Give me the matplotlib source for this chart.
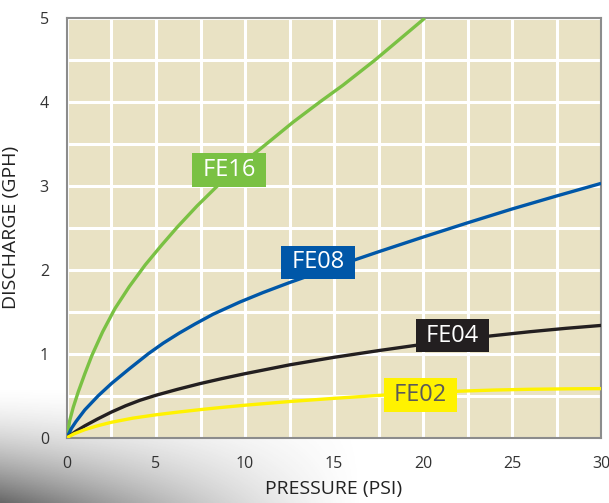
import numpy as np
import matplotlib.pyplot as plt

# values (pressure psi -> discharge gph)
fe16_x = [0, 0.15, 0.35, 0.64, 1.0, 1.4, 2.0, 2.7, 3.5, 4.4, 5.3, 6.2, 7.3, 8.45,
          9.8, 11.2, 12.7, 14.2, 15.5, 16.4, 17.3, 18.7, 20.1]
fe16_y = [0, 0.2, 0.36, 0.55, 0.76, 0.98, 1.26, 1.54, 1.8, 2.06, 2.29, 2.51, 2.76, 3.0,
          3.26, 3.5, 3.76, 4.0, 4.2, 4.35, 4.5, 4.75, 5.0]

fe08_x = [0, 0.25, 0.5, 1.0, 1.76, 2.5, 3.5, 4.57, 5.4, 6.3, 7.2, 8.2, 9.7,
          11.0, 12.5, 14.8, 17.5, 20.0, 22.5, 25.0, 27.5, 30.0]
fe08_y = [0, 0.11, 0.19, 0.33, 0.5, 0.645, 0.82, 1.0, 1.125, 1.245, 1.355, 1.47, 1.615,
          1.728, 1.848, 2.02, 2.215, 2.39, 2.56, 2.725, 2.88, 3.03]

fe04_x = [0, 0.5, 1.0, 1.7, 2.5, 3.3, 4.1, 5.0, 6.2, 7.5, 8.7, 10.0, 12.5, 15.0,
          17.5, 20.0, 22.0, 23.8, 26.0, 28.0, 30.0]
fe04_y = [0, 0.075, 0.14, 0.22, 0.305, 0.38, 0.445, 0.505, 0.575, 0.645, 0.703, 0.762, 0.867, 0.957,
          1.037, 1.112, 1.167, 1.212, 1.262, 1.302, 1.337]

fe02_x = [0, 0.4, 1.0, 1.7, 2.5, 3.7, 5.0, 6.2, 7.5, 8.7, 10.0, 12.5, 15.0, 17.5,
          20.0, 22.0, 24.0, 26.0, 28.0, 30.0]
fe02_y = [0, 0.045, 0.095, 0.14, 0.183, 0.232, 0.272, 0.303, 0.334, 0.36, 0.386, 0.43, 0.468, 0.503,
          0.533, 0.553, 0.567, 0.576, 0.581, 0.584]

names = ["FE16", "FE08", "FE04", "FE02"]
colors = ["#7ac143", "#0057a8", "#231f20", "#fff200"]
text_colors = ["white", "white", "white", "#5a5a5a"]
label_pos = [(9.1, 3.19), (14.1, 2.09), (21.65, 1.215), (19.85, 0.51)]

fig = plt.figure(figsize=(6.09, 5.03), dpi=100)

# smoky grey backdrop at bottom left
bg = fig.add_axes([0, 0, 1, 0.26], zorder=-5)
gx = np.linspace(0, 1, 300)
gy = np.linspace(0, 1, 80)
X, Y = np.meshgrid(gx, gy)
alpha = np.clip(1 - X / 0.6, 0, 1) ** 1.3 * np.clip(1 - Y / 0.9, 0, 1) ** 1.6 * 0.85
img = np.zeros((80, 300, 4))
img[..., :3] = 0.3
img[..., 3] = alpha
bg.imshow(img, origin="lower", aspect="auto", extent=[0, 1, 0, 1])
bg.axis("off")

ax = fig.add_axes([0.110, 0.130, 0.877, 0.834])
ax.set_facecolor("#e9e2c4")

series = [(fe16_x, fe16_y), (fe08_x, fe08_y), (fe04_x, fe04_y), (fe02_x, fe02_y)]
for (xs, ys), c in zip(series, colors):
    ax.plot(xs, ys, color=c, lw=2.4, solid_capstyle="butt", solid_joinstyle="round", zorder=3)

for name, c, tc, (lx, ly) in zip(names, colors, text_colors, label_pos):
    ax.text(lx, ly, " " + name + " ", color=tc, fontsize=17, family="Open Sans",
            ha="center", va="center", zorder=5,
            bbox=dict(boxstyle="square,pad=0.2", fc=c, ec="none"))

ax.set_xlim(0, 30)
ax.set_ylim(0, 5)
xt = np.arange(0, 31, 2.5)
yt = np.arange(0, 5.01, 0.5)
ax.set_xticks(xt)
ax.set_yticks(yt)
ax.set_xticklabels([str(int(v)) if v % 5 == 0 else "" for v in xt])
ax.set_yticklabels([str(int(v)) if v % 1 == 0 else "" for v in yt])
ax.tick_params(length=0, labelsize=11.5, colors="#333333", pad=13)
for lab in ax.get_xticklabels() + ax.get_yticklabels():
    lab.set_family("Open Sans")
ax.grid(True, color="white", lw=2.2)
ax.set_axisbelow(True)
for s in ax.spines.values():
    s.set_color("#8c8c8c")
    s.set_linewidth(1.5)

ax.set_xlabel("PRESSURE (PSI)", fontsize=14, family="Open Sans", color="#222222", labelpad=6)
ax.set_ylabel("DISCHARGE (GPH)", fontsize=14, family="Open Sans", color="#222222", labelpad=14)

fig.savefig("out.png", dpi=100)
